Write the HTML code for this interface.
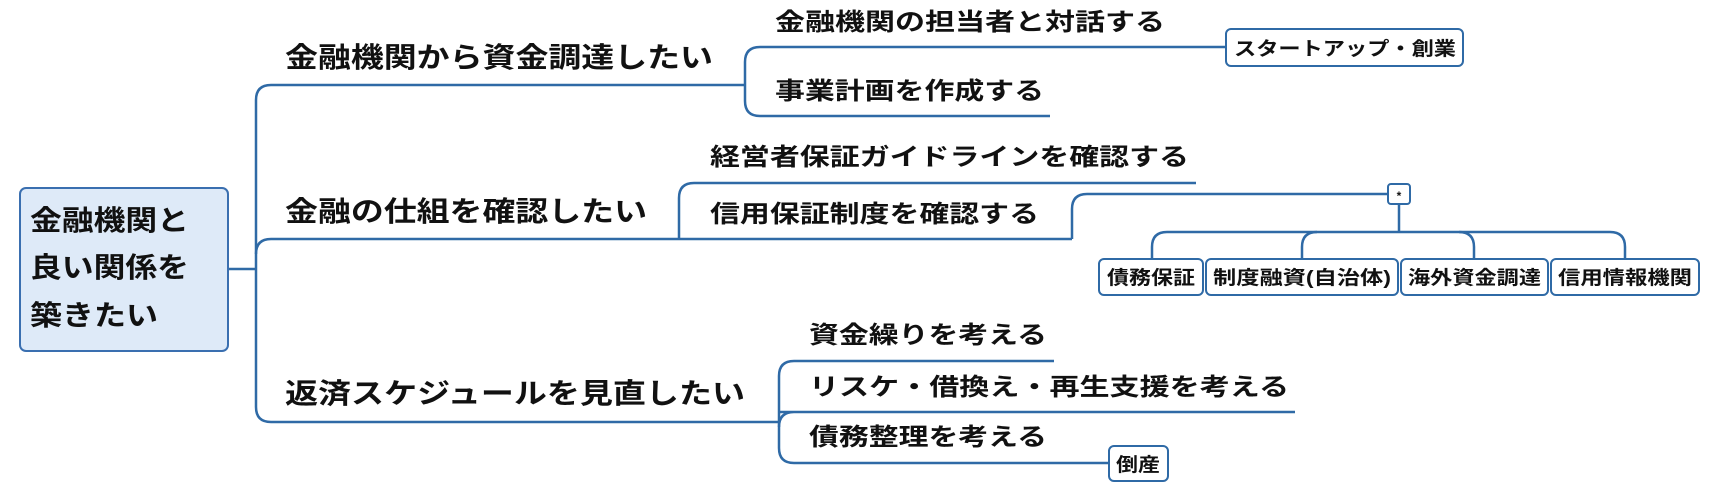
<!DOCTYPE html>
<html><head><meta charset="utf-8"><style>
html,body{margin:0;padding:0;background:#fff;}
svg{display:block;}
text{font-family:"Liberation Sans","Noto Sans CJK JP",sans-serif;font-weight:bold;fill:#111;}
</style></head><body>
<svg width="1723" height="490" viewBox="0 0 1723 490" xmlns="http://www.w3.org/2000/svg">
<g fill="none" stroke="#2f6aa6" stroke-width="2.5">
<!-- root connector -->
<path d="M228 269 H256"/>
<path d="M271 85 Q256 85 256 100 V407 Q256 422 271 422 H779"/>
<path d="M256 85 V85 M271 85 H745"/>
<path d="M256 254 Q256 239 271 239 H1072"/>
<!-- branch1 subs -->
<path d="M760 47 Q745 47 745 62 V101 Q745 116 760 116 H1050"/>
<path d="M760 47 H1226"/>
<!-- branch2 subs -->
<path d="M694 183 Q679 183 679 198 V239"/>
<path d="M694 183 H1196"/>
<path d="M1072 239 V209 Q1072 194 1087 194 H1388"/>
<path d="M1399 204 V232"/>
<path d="M1152 259 V247 Q1152 232 1167 232 H1610 Q1625 232 1625 247 V259"/>
<path d="M1302 259 V247 Q1302 232 1317 232 M1474 259 V247 Q1474 232 1459 232"/>
<!-- branch3 subs -->
<path d="M794 361 Q779 361 779 376 V448 Q779 463 794 463 H1109"/>
<path d="M794 361 H1054"/>
<path d="M794 412 Q779 412 779 427 M779 412 H1295"/>
</g>
<!-- root box -->
<rect x="20" y="188" width="208" height="163" rx="6" fill="#deeaf8" stroke="#3a6fb0" stroke-width="2"/>
<text x="30" y="230" font-size="28" textLength="159" lengthAdjust="spacingAndGlyphs">金融機関と</text>
<text x="30" y="277" font-size="28" textLength="159" lengthAdjust="spacingAndGlyphs">良い関係を</text>
<text x="30" y="325" font-size="28" textLength="128" lengthAdjust="spacingAndGlyphs">築きたい</text>
<!-- branches -->
<text x="285" y="67" font-size="28" textLength="428" lengthAdjust="spacingAndGlyphs">金融機関から資金調達したい</text>
<text x="285" y="221" font-size="28" textLength="362" lengthAdjust="spacingAndGlyphs">金融の仕組を確認したい</text>
<text x="285" y="403" font-size="28" textLength="460" lengthAdjust="spacingAndGlyphs">返済スケジュールを見直したい</text>
<!-- subs -->
<text x="775" y="30" font-size="24" textLength="390" lengthAdjust="spacingAndGlyphs">金融機関の担当者と対話する</text>
<text x="775" y="99" font-size="24" textLength="269" lengthAdjust="spacingAndGlyphs">事業計画を作成する</text>
<text x="710" y="165" font-size="24" textLength="479" lengthAdjust="spacingAndGlyphs">経営者保証ガイドラインを確認する</text>
<text x="710" y="222" font-size="24" textLength="329" lengthAdjust="spacingAndGlyphs">信用保証制度を確認する</text>
<text x="809" y="343" font-size="24" textLength="238" lengthAdjust="spacingAndGlyphs">資金繰りを考える</text>
<text x="809" y="395" font-size="24" textLength="480" lengthAdjust="spacingAndGlyphs">リスケ・借換え・再生支援を考える</text>
<text x="809" y="445" font-size="24" textLength="238" lengthAdjust="spacingAndGlyphs">債務整理を考える</text>
<!-- small boxes -->
<g fill="#fff" stroke="#2f6aa6" stroke-width="2">
<rect x="1226" y="29" width="237" height="37" rx="5"/>
<rect x="1388" y="184" width="22" height="20" rx="3"/>
<rect x="1099" y="259" width="104" height="36" rx="5"/>
<rect x="1206" y="259" width="192" height="36" rx="5"/>
<rect x="1401" y="259" width="147" height="36" rx="5"/>
<rect x="1551" y="259" width="148" height="36" rx="5"/>
<rect x="1109" y="446" width="59" height="35" rx="5"/>
</g>
<text x="1234" y="55" font-size="19" textLength="222" lengthAdjust="spacingAndGlyphs">スタートアップ・創業</text>
<text x="1399" y="200" font-size="12" text-anchor="middle">*</text>
<text x="1107" y="284" font-size="19" textLength="88" lengthAdjust="spacingAndGlyphs">債務保証</text>
<text x="1213" y="284" font-size="19" textLength="178" lengthAdjust="spacingAndGlyphs">制度融資(自治体)</text>
<text x="1408" y="284" font-size="19" textLength="133" lengthAdjust="spacingAndGlyphs">海外資金調達</text>
<text x="1558" y="284" font-size="19" textLength="134" lengthAdjust="spacingAndGlyphs">信用情報機関</text>
<text x="1116" y="471" font-size="19" textLength="44" lengthAdjust="spacingAndGlyphs">倒産</text>
</svg>
</body></html>
